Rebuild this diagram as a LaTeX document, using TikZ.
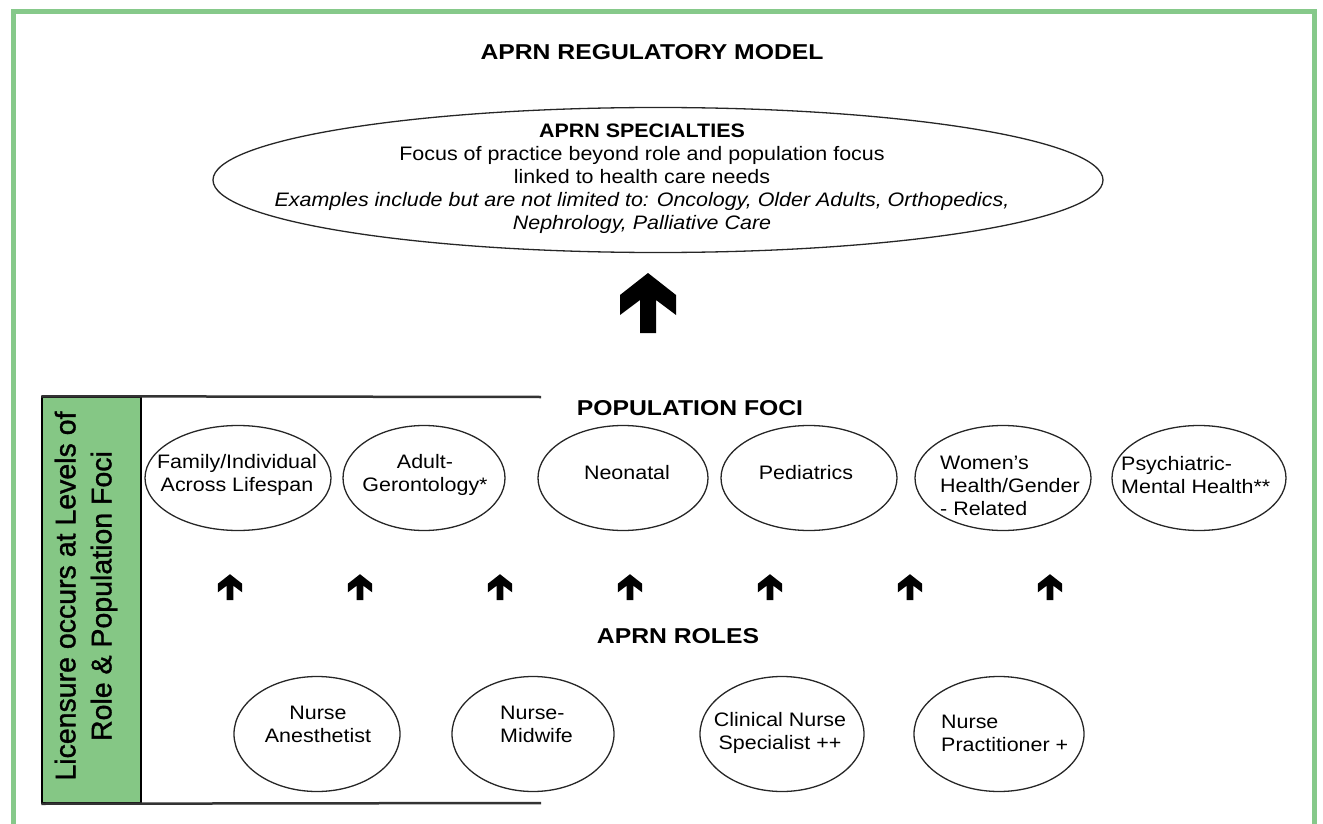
\documentclass[tikz,border=0pt]{standalone}
\usepackage{fontspec}
\setmainfont{Liberation Sans}
\newfontfamily\bodyfont{Liberation Sans}[FakeStretch=1.1]
\newfontfamily\headfont{Liberation Sans}[FakeStretch=1.15]
\newfontfamily\barfont{Liberation Sans}[FakeBold=1.2]
\usetikzlibrary{shapes.geometric}
\definecolor{frameGreen}{HTML}{86C98A}
\definecolor{barGreen}{HTML}{85C785}

\begin{document}
\begin{tikzpicture}[x=1pt,y=-1pt,
  txt/.style={font=\bodyfont\fontsize{19.5}{23}\selectfont,align=center,inner sep=0pt},
  head/.style={font=\headfont\bfseries\fontsize{21.5}{25}\selectfont,inner sep=0pt},
  oval/.style={draw=black!85,line width=1.3pt,ellipse,inner sep=0pt},
  focus/.style={oval,minimum width=#1,minimum height=105pt},
  role/.style={oval,minimum width=#1,minimum height=115pt},
  bracket/.style={draw=black!80,line width=2.5pt},
  uparr/.pic={\fill[black] (0,-60) -- (28,-38) -- (28,-18) -- (8,-33) -- (8,0)
    -- (-8,0) -- (-8,-33) -- (-28,-18) -- (-28,-38) -- cycle;}]
\useasboundingbox (0,0) rectangle (1323,824);
\draw[frameGreen,line width=5pt] (13.5,824) -- (13.5,11.5) -- (1314,11.5) -- (1314,824);

% specialties
\node[head](title) at (652,52) {APRN REGULATORY MODEL};
\node[oval,minimum width=890pt,minimum height=145pt](spec) at (658,180) {};
\node[txt](spectxt) at (642,178.5) {\textbf{APRN SPECIALTIES}\\
  Focus of practice beyond role and population focus\\
  linked to health care needs\\
  \textit{Examples include but are not limited to: Oncology, Older Adults, Orthopedics,}\\
  \textit{Nephrology, Palliative Care}};
\pic at (648,333) {uparr};

% licensure bar
\node[draw=black,line width=1.5pt,fill=barGreen,minimum width=99pt,minimum height=406pt,inner sep=0pt](bar) at (91.5,600) {};
\node[rotate=90,align=center,inner sep=0pt,font=\barfont\fontsize{28.5}{36}\selectfont](bartxt) at (86,596)
  {Licensure occurs at Levels of\\Role \& Population Foci};
\coordinate (topend) at (541,397);
\coordinate (botend) at (541,803);
\draw[bracket] (bar.north west) -- (topend);
\draw[bracket] (bar.south west) -- (botend);

% population foci
\node[head](foci) at (690,408) {POPULATION FOCI};
\node[focus=186pt](fam) at (238,478) {};
\node[focus=162pt](adult) at (424,478) {};
\node[focus=170pt](neo) at (623,478) {};
\node[focus=176pt](ped) at (809,478) {};
\node[focus=176pt](wom) at (1003,478) {};
\node[focus=174pt](psy) at (1199,478) {};
\node[txt](famtxt) at (237,475) {Family/Individual\\Across Lifespan};
\node[txt](adulttxt) at (425,475) {Adult-\\Gerontology*};
\node[txt](neotxt) at (627,473) {Neonatal};
\node[txt](pedtxt) at (806,473) {Pediatrics};
\node[txt,align=left,anchor=west](womtxt) at (940,486) {Women’s\\Health/Gender\\- Related};
\node[txt,align=left,anchor=west](psytxt) at (1121,475) {Psychiatric-\\Mental Health**};

\foreach \x in {230,360,500,630,770,910,1050}
  \pic[scale=0.43] at (\x,600) {uparr};

% roles
\node[head](roles) at (678,636) {APRN ROLES};
\node[role=166pt](anes) at (317,734) {};
\node[role=162pt](mid) at (533,734) {};
\node[role=164pt](cns) at (782,734) {};
\node[role=170pt](np) at (999,734) {};
\node[txt](anestxt) at (318,724) {Nurse\\Anesthetist};
\node[txt,align=left,anchor=west](midtxt) at (500,724) {Nurse-\\Midwife};
\node[txt](cnstxt) at (780,733) {Clinical Nurse\\Specialist ++};
\node[txt,align=left,anchor=west](nptxt) at (941,733) {Nurse\\Practitioner +};
\end{tikzpicture}
\end{document}
